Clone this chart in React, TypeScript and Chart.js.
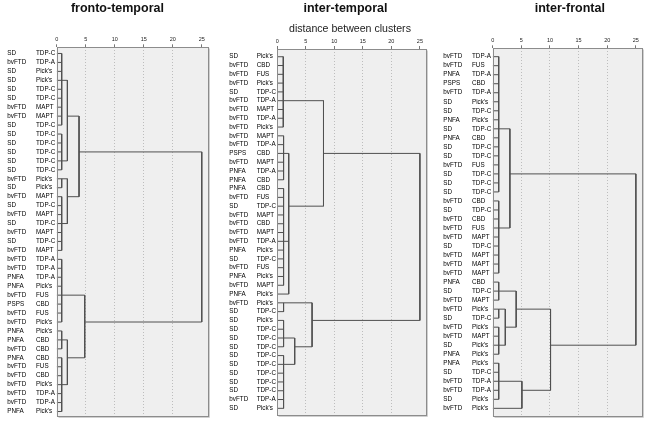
import React, { useEffect, useRef } from "react";
import { Chart, registerables } from "chart.js";

Chart.register(...registerables);

const FONT = "'Liberation Sans', Arial, sans-serif";

// x-axis tick labels (distance between clusters)
const distanceTicks = [0, 5, 10, 15, 20, 25];

// ---------------- fronto-temporal ----------------
const ftGroups = [
  "SD", "bvFTD", "SD", "SD", "SD", "SD", "bvFTD", "bvFTD", "SD", "SD", "SD", "SD", "SD", "SD",
  "bvFTD", "SD", "bvFTD", "SD", "bvFTD", "SD", "bvFTD", "SD", "bvFTD", "bvFTD", "bvFTD", "PNFA",
  "PNFA", "bvFTD", "PSPS", "bvFTD", "bvFTD", "PNFA", "PNFA", "bvFTD", "PNFA", "bvFTD", "bvFTD",
  "bvFTD", "bvFTD", "bvFTD", "PNFA",
];
const ftPathology = [
  "TDP-C", "TDP-A", "Pick's", "Pick's", "TDP-C", "TDP-C", "MAPT", "MAPT", "TDP-C", "TDP-C", "TDP-C",
  "TDP-C", "TDP-C", "TDP-C", "Pick's", "Pick's", "MAPT", "TDP-C", "MAPT", "TDP-C", "MAPT", "TDP-C",
  "MAPT", "TDP-A", "TDP-A", "TDP-A", "Pick's", "FUS", "CBD", "FUS", "Pick's", "Pick's", "CBD", "CBD",
  "CBD", "FUS", "CBD", "Pick's", "TDP-A", "TDP-A", "Pick's",
];
// [cluster, first leaf, last leaf, merge distance, row of its link]
const ftLeafClusters: [string, number, number, number, number][] = [
  ["a1", 0, 8, 0.86, 3],
  ["a2", 9, 13, 0.86, 12],
  ["b1", 14, 15, 0.86, 14],
  ["b2", 16, 22, 0.86, 19],
  ["c", 23, 30, 0.86, 27],
  ["d1", 31, 33, 0.86, 32],
  ["d2", 34, 40, 0.86, 37],
];
// [cluster, members, merge distance, row of its link]
const ftMerges: [string, (string | number)[], number, number | null][] = [
  ["A", ["a1", "a2"], 1.84, 7],
  ["B", ["b1", "b2"], 1.84, 16],
  ["U", ["A", "B"], 3.85, 11],
  ["D", ["d1", "d2"], 1.84, 34],
  ["L", ["c", "D"], 4.83, 30],
  ["root", ["U", "L"], 25, null],
];

// ---------------- inter-temporal ----------------
const itGroups = [
  "SD", "bvFTD", "bvFTD", "bvFTD", "SD", "bvFTD", "bvFTD", "bvFTD", "bvFTD", "bvFTD",
  "bvFTD", "PSPS", "bvFTD", "PNFA", "PNFA", "PNFA", "bvFTD", "SD", "bvFTD", "bvFTD",
  "bvFTD", "bvFTD", "PNFA", "SD", "bvFTD", "PNFA", "bvFTD", "PNFA", "bvFTD", "SD",
  "SD", "SD", "SD", "SD", "SD", "SD", "SD", "SD", "SD", "bvFTD", "SD",
];
const itPathology = [
  "Pick's", "CBD", "FUS", "Pick's", "TDP-C", "TDP-A", "MAPT", "TDP-A", "Pick's", "MAPT",
  "TDP-A", "CBD", "MAPT", "TDP-A", "CBD", "CBD", "FUS", "TDP-C", "MAPT", "CBD",
  "MAPT", "TDP-A", "Pick's", "TDP-C", "FUS", "Pick's", "MAPT", "Pick's", "Pick's", "TDP-C",
  "Pick's", "TDP-C", "TDP-C", "TDP-C", "TDP-C", "TDP-C", "TDP-C", "TDP-C", "TDP-C", "TDP-A", "Pick's",
];
const itLeafClusters: [string, number, number, number, number][] = [
  ["p1", 0, 8, 1.05, 5],
  ["q1", 9, 14, 1.1, 11],
  ["q2", 15, 26, 1.1, 21],
  ["l1", 28, 29, 1.1, 28],
  ["l2a", 30, 33, 1.1, 32],
  ["l2b", 34, 40, 1.1, 35],
];
const itMerges: [string, (string | number)[], number, number | null][] = [
  ["Q", ["q1", "q2", 27], 2.0, 17],
  ["U", ["p1", "Q"], 8.1, 11],
  ["l2", ["l2a", "l2b"], 3.05, 33],
  ["L", ["l1", "l2"], 6.1, 30],
  ["root", ["U", "L"], 25, null],
];

// ---------------- inter-frontal ----------------
const ifGroups = [
  "bvFTD", "bvFTD", "PNFA", "PSPS", "bvFTD", "SD", "SD", "PNFA", "SD", "PNFA",
  "SD", "SD", "bvFTD", "SD", "SD", "SD", "bvFTD", "SD", "bvFTD", "bvFTD",
  "bvFTD", "SD", "bvFTD", "bvFTD", "bvFTD", "PNFA", "SD", "bvFTD", "bvFTD", "SD",
  "bvFTD", "bvFTD", "SD", "PNFA", "PNFA", "SD", "bvFTD", "bvFTD", "SD", "bvFTD",
];
const ifPathology = [
  "TDP-A", "FUS", "TDP-A", "CBD", "TDP-A", "Pick's", "TDP-C", "Pick's", "TDP-C", "CBD",
  "TDP-C", "TDP-C", "FUS", "TDP-C", "TDP-C", "TDP-C", "CBD", "TDP-C", "CBD", "FUS",
  "MAPT", "TDP-C", "MAPT", "MAPT", "MAPT", "CBD", "TDP-C", "MAPT", "Pick's", "TDP-C",
  "Pick's", "MAPT", "Pick's", "Pick's", "Pick's", "TDP-C", "TDP-A", "TDP-A", "Pick's", "Pick's",
];
const ifLeafClusters: [string, number, number, number, number][] = [
  ["f1", 0, 15, 1.05, 8],
  ["f2", 16, 24, 1.05, 19],
  ["g1", 25, 27, 1.05, 26],
  ["g2", 28, 29, 1.05, 28],
  ["g3", 30, 33, 1.05, 32],
  ["g4", 34, 38, 1.05, 36],
];
const ifMerges: [string, (string | number)[], number, number | null][] = [
  ["U", ["f1", "f2"], 3.0, 13],
  ["G23", ["g2", "g3"], 2.2, 30],
  ["L1", ["g1", "G23"], 4.1, 28],
  ["L2", ["g4", 39], 5.1, 37],
  ["L", ["L1", "L2"], 10.1, 32],
  ["root", ["U", "L"], 25, null],
];

function dendrogramPoints(
  leafClusters: [string, number, number, number, number][],
  merges: [string, (string | number)[], number, number | null][]
) {
  const nodes: Record<string, { h: number; at: number }> = {};
  const pts: { x: number; y: number | null }[] = [];
  const seg = (x1: number, y1: number, x2: number, y2: number) => {
    pts.push({ x: x1, y: y1 }, { x: x2, y: y2 }, { x: x2, y: null });
  };
  for (const [name, first, last, h, at] of leafClusters) {
    for (let i = first; i <= last; i++) seg(0, i, h, i);
    seg(h, first, h, last);
    nodes[name] = { h, at };
  }
  for (const [name, kids, h, at] of merges) {
    const ks = kids.map((k) => (typeof k === "number" ? { h: 0, at: k } : nodes[k]));
    ks.forEach((k) => seg(k.h, k.at, h, k.at));
    const ys = ks.map((k) => k.at);
    const lo = Math.min(...ys);
    const hi = Math.max(...ys);
    seg(h, lo, h, hi);
    nodes[name] = { h, at: at == null ? (lo + hi) / 2 : at };
  }
  return pts;
}

type PanelCfg = {
  key: string;
  title: string;
  subtitle?: string;
  groups: string[];
  pathology: string[];
  leafClusters: [string, number, number, number, number][];
  merges: [string, (string | number)[], number, number | null][];
  left: number;
  width: number;
  pad: { left: number; right: number; top: number; bottom: number };
  yMin: number;
  yMax: number;
  groupX: number;
  pathX: number;
  titleX: number;
  subtitleX?: number;
};

const panels: PanelCfg[] = [
  {
    key: "ft", title: "fronto-temporal", groups: ftGroups, pathology: ftPathology,
    leafClusters: ftLeafClusters, merges: ftMerges,
    left: 0, width: 218, pad: { left: 56.7, right: 8.7, top: 35.3, bottom: 6.3 },
    yMin: -0.69, yMax: 40.58, groupX: 7.3, pathX: 36, titleX: 117.4,
  },
  {
    key: "it", title: "inter-temporal", subtitle: "distance between clusters", groups: itGroups,
    pathology: itPathology, leafClusters: itLeafClusters, merges: itMerges,
    left: 222, width: 212, pad: { left: 55.3, right: 6.7, top: 37, bottom: 7.3 },
    yMin: -0.88, yMax: 40.84, groupX: 7.3, pathX: 34.7, titleX: 123.5, subtitleX: 128,
  },
  {
    key: "if", title: "inter-frontal", groups: ifGroups, pathology: ifPathology,
    leafClusters: ifLeafClusters, merges: ifMerges,
    left: 436, width: 220, pad: { left: 56.7, right: 12.7, top: 36.3, bottom: 6.3 },
    yMin: -0.93, yMax: 39.93, groupX: 7.3, pathX: 36, titleX: 133.8,
  },
];

function Panel({ p }: { p: PanelCfg }) {
  const ref = useRef<HTMLCanvasElement | null>(null);
  useEffect(() => {
    const decor = {
      id: "decor_" + p.key,
      beforeDraw(chart: any) {
        const { ctx, chartArea: a } = chart;
        ctx.save();
        ctx.fillStyle = "#efefef";
        ctx.fillRect(a.left, a.top, a.right - a.left, a.bottom - a.top);
        ctx.restore();
      },
      afterDraw(chart: any) {
        const { ctx, chartArea: a } = chart;
        const ys = chart.scales.y;
        ctx.save();
        ctx.strokeStyle = "#8c8c8c";
        ctx.lineWidth = 1;
        const l = Math.round(a.left) + 0.5;
        const t = Math.round(a.top) + 0.5;
        const r = Math.round(a.right) - 0.5;
        const b = Math.round(a.bottom) - 0.5;
        ctx.strokeRect(l, t, r - l, b - t);
        ctx.strokeStyle = "#d0d0d0";
        ctx.beginPath();
        ctx.moveTo(r + 1, t + 1);
        ctx.lineTo(r + 1, b + 1);
        ctx.lineTo(l + 1, b + 1);
        ctx.stroke();

        ctx.fillStyle = "#000";
        ctx.font = `6.3px ${FONT}`;
        ctx.textAlign = "left";
        ctx.textBaseline = "middle";
        p.groups.forEach((g, i) => {
          const y = ys.getPixelForValue(i);
          ctx.fillText(g, p.groupX, y);
          ctx.fillText(p.pathology[i], p.pathX, y);
        });

        ctx.fillStyle = "#111";
        ctx.textAlign = "center";
        ctx.textBaseline = "alphabetic";
        ctx.font = `bold 12.5px ${FONT}`;
        ctx.fillText(p.title, p.titleX, 12);
        if (p.subtitle) {
          ctx.fillStyle = "#222";
          ctx.font = `10.6px ${FONT}`;
          ctx.fillText(p.subtitle, p.subtitleX ?? p.titleX, 31.5);
        }
        ctx.restore();
      },
    };

    const chart = new Chart(ref.current as HTMLCanvasElement, {
      type: "line",
      data: {
        datasets: [
          {
            data: dendrogramPoints(p.leafClusters, p.merges) as any,
            borderColor: "#505050",
            borderWidth: 1,
            pointRadius: 0,
            pointHoverRadius: 0,
            spanGaps: false,
            tension: 0,
            fill: false,
          },
        ],
      },
      options: {
        responsive: false,
        animation: false,
        devicePixelRatio: 1,
        events: [],
        layout: { padding: p.pad },
        plugins: { legend: { display: false }, tooltip: { enabled: false }, title: { display: false } },
        scales: {
          x: {
            type: "linear",
            position: "top",
            min: 0,
            max: 26.3,
            afterFit: (s: any) => {
              s.height = 12;
            },
            afterBuildTicks: (s: any) => {
              s.ticks = distanceTicks.map((v) => ({ value: v }));
            },
            ticks: {
              font: { size: 5.5, family: FONT },
              color: "#222",
              padding: 1.5,
              maxRotation: 0,
              autoSkip: false,
            },
            grid: {
              color: (c: any) =>
                c.tick && c.tick.value > 0 && c.tick.value < 25 ? "#bdbdbd" : "rgba(0,0,0,0)",
              tickColor: "#777",
              tickLength: 3,
              drawTicks: true,
            },
            border: { display: false, dash: [1, 2] },
          },
          y: {
            type: "linear",
            display: false,
            reverse: true,
            min: p.yMin,
            max: p.yMax,
          },
        },
      },
      plugins: [decor],
    });
    return () => chart.destroy();
  }, []);
  return (
    <canvas
      ref={ref}
      width={p.width}
      height={423}
      style={{ position: "absolute", left: p.left, top: 0, width: p.width, height: 423 }}
    />
  );
}

export default function App() {
  return (
    <div style={{ position: "fixed", left: 0, top: 0, width: 656, height: 423, background: "#fff" }}>
      {panels.map((p) => (
        <Panel key={p.key} p={p} />
      ))}
    </div>
  );
}
